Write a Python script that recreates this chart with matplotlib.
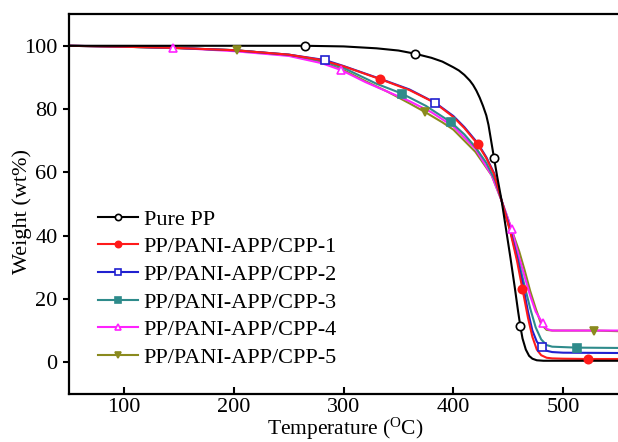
import matplotlib
matplotlib.use("Agg")
import matplotlib.pyplot as plt
from matplotlib.lines import Line2D

plt.rcParams['font.family'] = ['Liberation Serif', 'DejaVu Serif']
plt.rcParams['mathtext.fontset'] = 'custom'
plt.rcParams['mathtext.rm'] = 'Liberation Serif'

labels = ["Pure PP", "PP/PANI-APP/CPP-1", "PP/PANI-APP/CPP-2",
          "PP/PANI-APP/CPP-3", "PP/PANI-APP/CPP-4", "PP/PANI-APP/CPP-5"]

# Pure PP
t_pp = [50, 100, 150, 200, 250, 265, 300, 330, 350, 365, 380, 390, 400, 405, 410, 415, 418, 421, 424,
        427, 430, 432, 437, 440, 444, 448, 452, 456, 459, 461, 463, 466, 469, 472, 476, 482, 520, 550]
w_pp = [100, 100, 100, 100, 100, 100, 99.8, 99.2, 98.5, 97.5, 96.2, 95, 93.2, 92.2, 90.8, 89, 87.6, 85.8, 83.6,
        81, 78, 75, 64.6, 58.5, 51, 42, 33, 23.5, 16, 11.4, 7.5, 4, 2, 1.1, 0.6, 0.45, 0.45, 0.45]
mt_pp = [265, 365, 437, 461]
mw_pp = [100, 97.5, 64.6, 11.4]

# CPP-1
t_1 = [50, 100, 150, 200, 250, 280, 300, 333, 360, 383, 400, 410, 422, 430, 437, 444, 452, 458,
       463, 468, 472, 476, 480, 485, 490, 500, 523, 550]
w_1 = [100, 99.7, 99.3, 98.6, 97.2, 95.5, 93.5, 89.5, 86, 82, 77.5, 74, 69, 64.5, 59.5, 51, 41, 32,
       23, 14, 8, 4, 2.2, 1.4, 1.2, 1.1, 1.0, 1.0]
mt_1 = [333, 422, 462.7, 523]
mw_1 = [89.5, 69.1, 23.2, 0.9]

# CPP-2
t_2 = [50, 100, 150, 200, 250, 283, 300, 333, 360, 383.5, 400, 410, 422, 430, 437, 444, 452, 458,
       463, 468, 472, 476, 480, 485, 490, 500, 550]
w_2 = [100, 99.7, 99.3, 98.6, 97.2, 95.5, 93.6, 89.6, 86.2, 82, 77.8, 74.3, 69.3, 64.8, 59.8, 51, 41.5, 33,
       25, 16, 10, 6.5, 4.8, 3.6, 3.2, 3.0, 2.9]
mt_2 = [283, 383.5, 480.6]
mw_2 = [95.5, 82, 4.7]

# CPP-3
t_3 = [50, 100, 150, 200, 250, 280, 300, 330, 353, 375, 398, 410, 420, 430, 438, 444, 450, 455,
       460, 465, 470, 475, 480, 485, 490, 512, 550]
w_3 = [100, 99.7, 99.3, 98.6, 97.2, 95.3, 93, 88, 84.9, 81, 75.8, 72, 68, 63, 57.5, 51, 44, 37.5,
       31, 24, 17, 11, 7.2, 5.4, 4.9, 4.6, 4.5]
mt_3 = [353, 398, 512.5]
mw_3 = [84.9, 75.8, 4.5]

# CPP-4
t_4 = [50, 100, 145, 200, 250, 280, 298, 320, 340, 360, 380, 400, 420, 435, 444, 453, 460, 465,
       470, 475, 481, 485, 490, 520, 550]
w_4 = [100, 99.8, 99.4, 98.3, 96.8, 94.5, 92.3, 88.5, 85.5, 82.5, 79, 74.5, 67.5, 59, 51, 42.2, 33, 27,
       21, 16, 12.5, 10.5, 10, 10, 10]
mt_4 = [145, 297.8, 453, 481.4]
mw_4 = [99.4, 92.3, 42.2, 12.5]

# CPP-5
t_5 = [50, 100, 150, 203, 250, 280, 300, 320, 340, 360, 374, 390, 400, 420, 435, 444, 452, 460,
       465, 470, 475, 480, 485, 490, 528, 550]
w_5 = [100, 99.7, 99.2, 98.6, 97, 94.8, 92.3, 88.8, 85.5, 81.8, 79.1, 75.8, 73.5, 66.5, 59, 51, 43, 35,
       29, 22.5, 17, 12, 10.2, 10, 10, 9.8]
mt_5 = [203, 373.8, 528]
mw_5 = [98.6, 79.1, 10]

xticks = [100, 200, 300, 400, 500]
yticks = [0, 20, 40, 60, 80, 100]

series = [
    (t_pp, w_pp, mt_pp, mw_pp, 'black', 'o', 'white'),
    (t_1, w_1, mt_1, mw_1, '#ff1a1a', 'o', '#ff1a1a'),
    (t_2, w_2, mt_2, mw_2, '#2020d0', 's', 'white'),
    (t_3, w_3, mt_3, mw_3, '#2e8b8b', 's', '#2e8b8b'),
    (t_4, w_4, mt_4, mw_4, '#ff22ff', '^', 'white'),
    (t_5, w_5, mt_5, mw_5, '#8a8a1e', 'v', '#8a8a1e'),
]

fig = plt.figure(figsize=(6.18, 4.42), dpi=100)
ax = fig.add_axes([0.112, 0.109, 0.888, 0.859])

handles = []
draw_order = [5, 4, 3, 2, 1, 0]
for i in draw_order:
    t, w, mt, mw, c, m, mf = series[i]
    ax.plot(t, w, color=c, lw=1.5, zorder=2 + (5 - i) * 0.1)
    ax.plot(mt, mw, ls='none', marker=m, ms=6, mfc=mf, mec=c, mew=1.2, zorder=3)
for i, (t, w, mt, mw, c, m, mf) in enumerate(series):
    handles.append(Line2D([], [], color=c, lw=1.5, marker=m, ms=4.5, mfc=mf, mec=c, mew=1.2,
                          label=labels[i]))

ax.set_xlim(50, 550)
ax.set_ylim(-10, 110)
ax.set_xticks(xticks)
ax.set_yticks(yticks)
ax.tick_params(axis='x', direction='in', length=5, width=1.5, labelsize=16, pad=3)
ax.tick_params(axis='y', direction='out', length=4.5, width=1.5, labelsize=16, pad=4)
for s in ['left', 'bottom', 'top']:
    ax.spines[s].set_linewidth(1.6)
ax.spines['right'].set_visible(False)

fig.text(345 / 618, 1 - 435 / 442, 'Temperature ($\\mathregular{^{O}}$C)', fontsize=15.5,
         ha='center', va='baseline')
fig.text(22.5 / 618, 1 - 211 / 442, 'Weight (wt%)', fontsize=16, rotation=90,
         ha='center', va='center')

fig.legend(handles=handles, loc='upper left', bbox_to_anchor=(98 / 618, 1 - 209 / 442),
           frameon=False, fontsize=16, handlelength=1.8, handletextpad=0.25,
           labelspacing=0.32, borderpad=0, borderaxespad=0)

fig.savefig('out.png', dpi=100)
